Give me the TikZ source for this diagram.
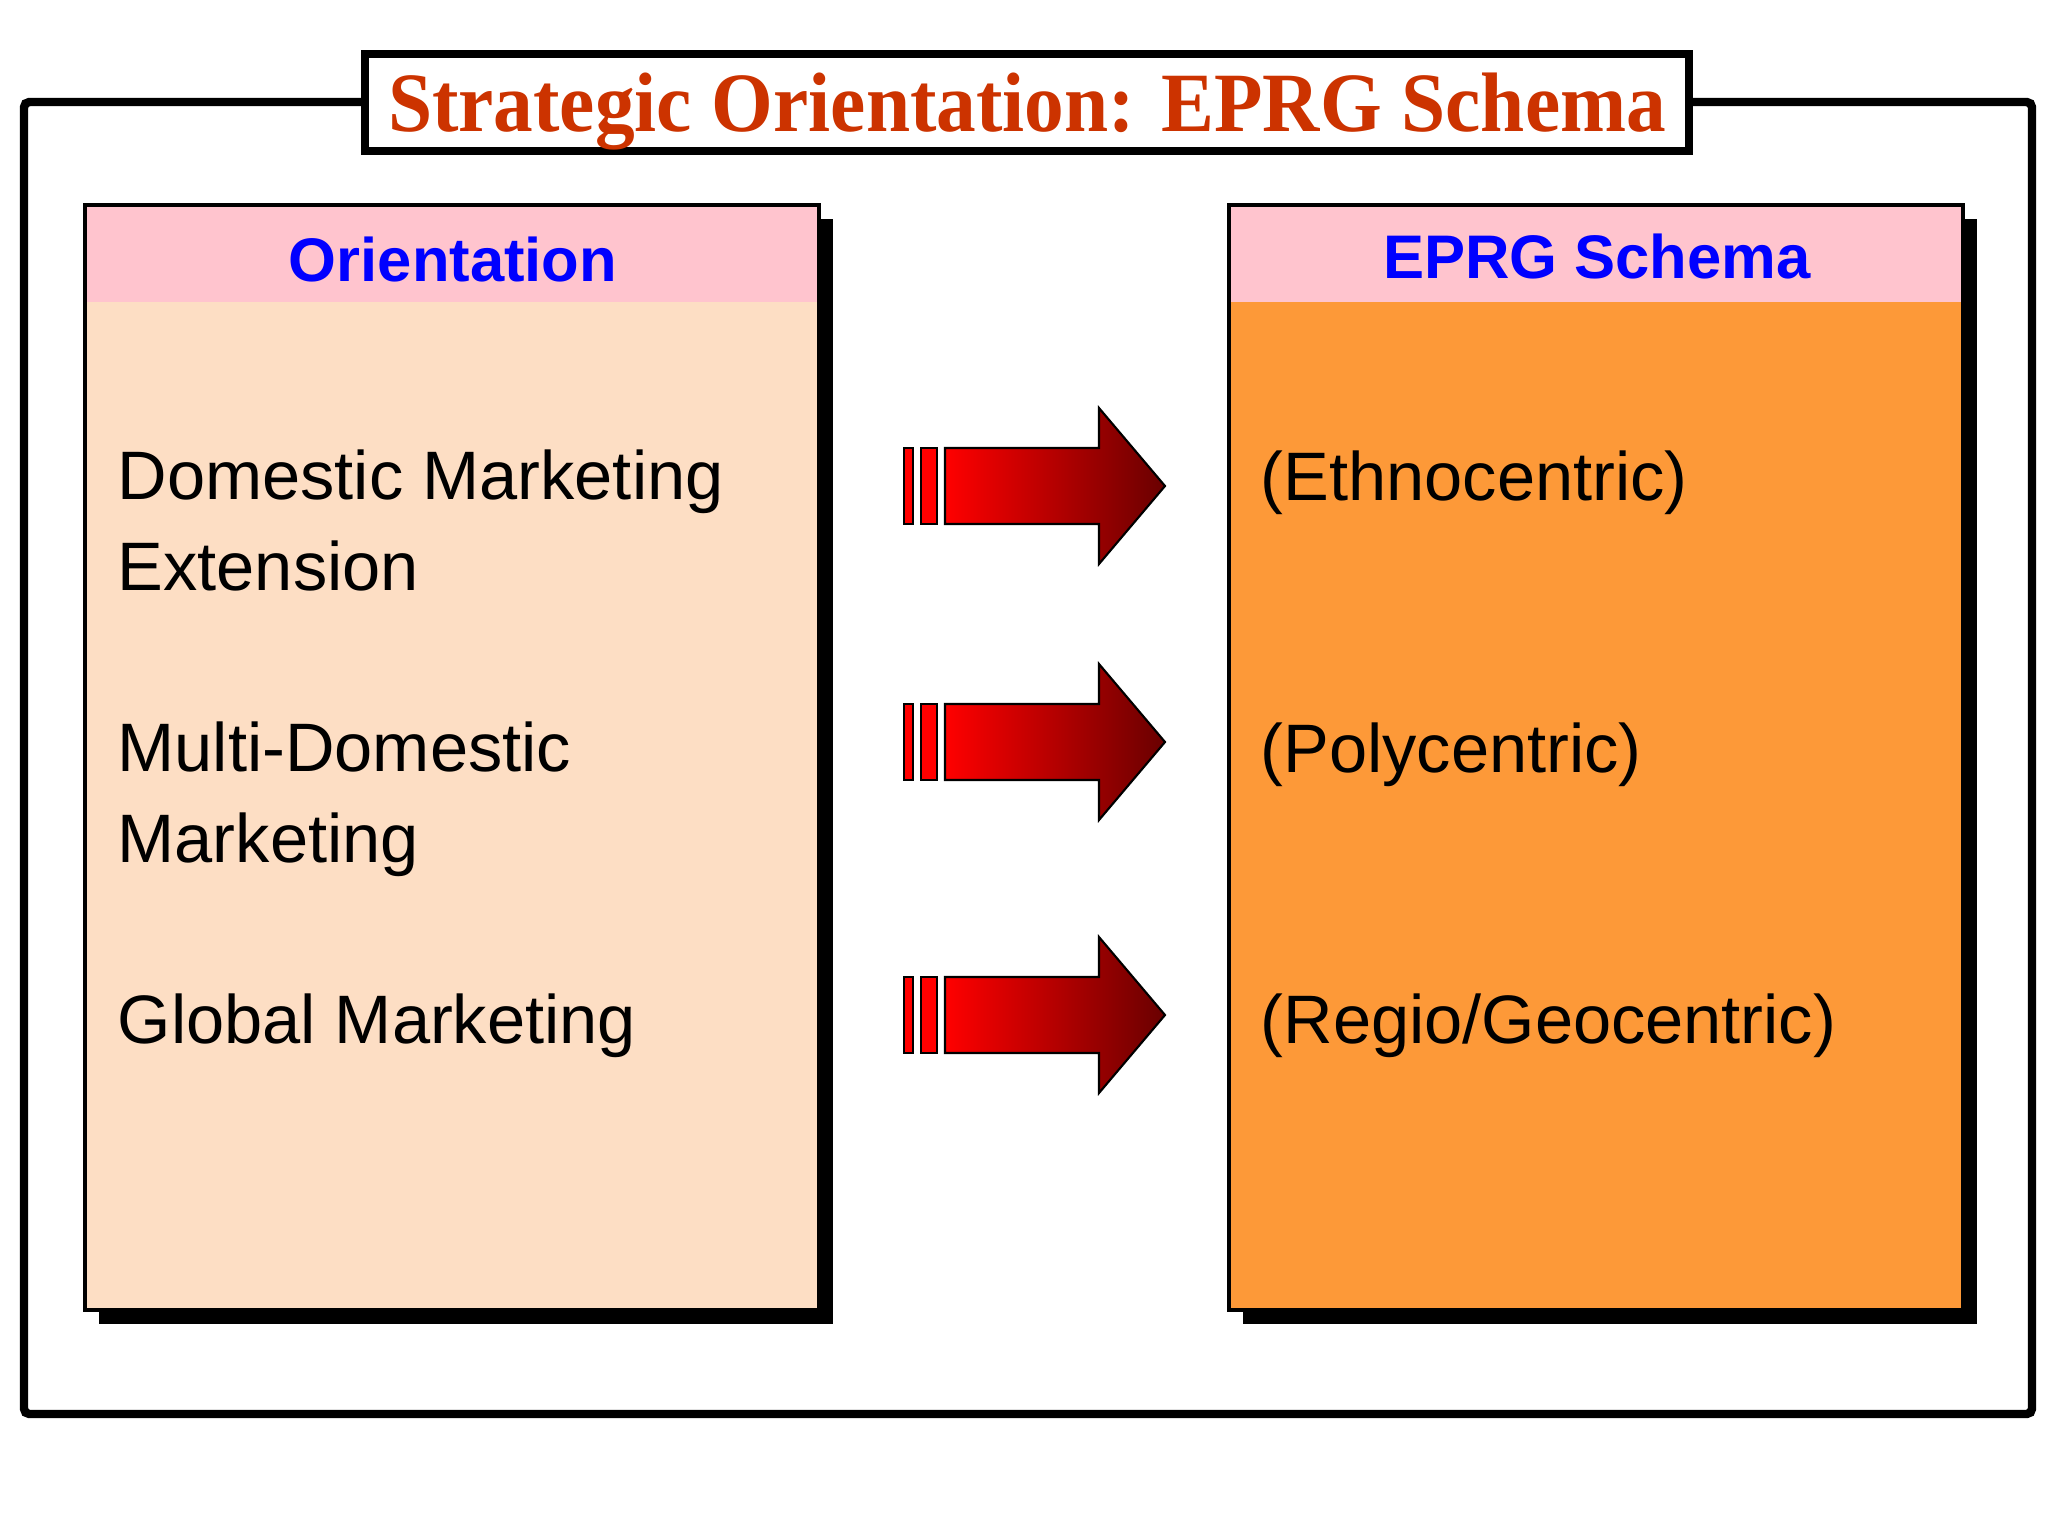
\documentclass[tikz,border=0pt]{standalone}
\usepackage{fontspec}
\setmainfont{Liberation Serif}
\setsansfont{Liberation Sans}
\usepackage{tikz}

\definecolor{titlered}{RGB}{204,51,0}
\definecolor{headpink}{RGB}{255,196,206}
\definecolor{peach}{RGB}{253,222,196}
\definecolor{schemaorange}{RGB}{253,153,56}
\definecolor{darkarrow}{RGB}{105,0,0}

\tikzset{
	frame/.style = {draw=black, line width=2.4pt},
	panel/.style = {draw=black, line width=1.4pt},
	headtext/.style = {font=\sffamily\bfseries\fontsize{17.5}{21}\selectfont, text=blue, anchor=base, inner sep=0pt},
	itemtext/.style = {font=\sffamily\fontsize{19.5}{25.6}\selectfont, align=left, anchor=base west, inner sep=0pt},
	arrowbar/.style = {draw=black, line width=0.6pt, fill=red},
	arrowbody/.style = {draw=black, line width=0.6pt, left color=red, right color=darkarrow}
}

\begin{document}
\begin{tikzpicture}[x=0.01cm, y=-0.01cm]
	\useasboundingbox (0,0) rectangle (2048,1536);
	% frame and title
	\draw[frame, rounded corners=1.5pt] (24,102) rectangle (2032,1414);
	\draw[frame, fill=white] (365,54) rectangle (1689,151);
	\node[anchor=base, inner sep=0pt, text=titlered, font=\bfseries\fontsize{24}{28}\selectfont] (title) at (1027,131) {\scalebox{0.94}[1]{Strategic Orientation: EPRG Schema}};
	% left panel
	\fill[black] (99,219) rectangle (833,1324);
	\fill[peach] (85,205) rectangle (819,1310);
	\fill[headpink] (85,205) rectangle (819,302);
	\draw[panel] (85,205) rectangle (819,1310);
	% right panel
	\fill[black] (1243,219) rectangle (1977,1324);
	\fill[schemaorange] (1229,205) rectangle (1963,1310);
	\fill[headpink] (1229,205) rectangle (1963,302);
	\draw[panel] (1229,205) rectangle (1963,1310);
	\node[headtext] (orient) at (453,281) {Orientation};
	\node[headtext] (eprg) at (1597,278) {EPRG Schema};
	% items (base = last line)
	\node[itemtext] (domestic) at (117,590) {Domestic Marketing\\Extension};
	\node[itemtext] (multi) at (117,862) {Multi-Domestic\\Marketing};
	\node[itemtext] (global) at (117,1043) {Global Marketing};
	\node[itemtext] (ethno) at (1260,500) {(Ethnocentric)};
	\node[itemtext] (poly) at (1260,772) {(Polycentric)};
	\node[itemtext] (geo) at (1260,1043) {(Regio/Geocentric)};
	% arrows
	\foreach \y in {486,742,1015} {
		\draw[arrowbar] (904,\y-38) rectangle (913,\y+38);
		\draw[arrowbar] (921,\y-38) rectangle (937,\y+38);
		\shadedraw[arrowbody] (945,\y-38) -- (1099,\y-38) -- (1099,\y-78) -- (1165,\y) -- (1099,\y+78) -- (1099,\y+38) -- (945,\y+38) -- cycle;
	}
\end{tikzpicture}
\end{document}
